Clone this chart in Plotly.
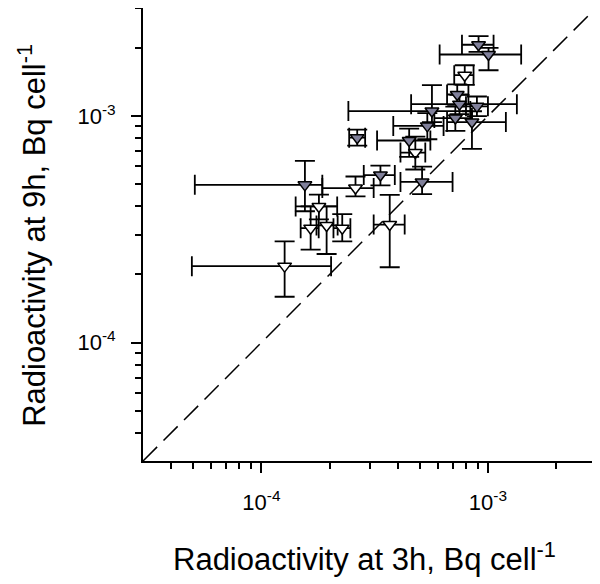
import math
import plotly.graph_objects as go

# ---------------- data (Bq cell^-1) ----------------
# grey (filled) series
grey_x    = [9.09e-4, 1.006e-3, 7.32e-4, 7.49e-4, 5.66e-4, 8.94e-4, 7.18e-4, 8.50e-4, 5.40e-4, 2.648e-4, 4.49e-4, 3.353e-4, 5.12e-4, 1.556e-4]
grey_y    = [2.065e-3, 1.870e-3, 1.245e-3, 1.129e-3, 1.052e-3, 1.104e-3, 9.80e-4, 9.41e-4, 9.05e-4, 8.03e-4, 7.80e-4, 5.49e-4, 5.12e-4, 4.97e-4]
grey_x_lo = [7.68e-4, 6.12e-4, 6.60e-4, 4.58e-4, 2.42e-4, 8.00e-4, 5.80e-4, 6.60e-4, 3.82e-4, 2.44e-4, 3.24e-4, 2.83e-4, 4.11e-4, 5.08e-5]
grey_x_hi = [1.059e-3, 1.402e-3, 8.20e-4, 1.342e-3, 8.36e-4, 1.00e-3, 8.50e-4, 1.20e-3, 6.37e-4, 2.87e-4, 5.57e-4, 3.88e-4, 6.98e-4, 1.857e-4]
grey_y_lo = [1.92e-3, 1.593e-3, 1.12e-3, 1.02e-3, 9.40e-4, 1.00e-3, 8.60e-4, 7.16e-4, 7.90e-4, 7.40e-4, 6.60e-4, 4.94e-4, 4.52e-4, 3.80e-4]
grey_y_hi = [2.254e-3, 2.00e-3, 1.38e-3, 1.24e-3, 1.37e-3, 1.22e-3, 1.10e-3, 1.05e-3, 1.03e-3, 8.71e-4, 8.80e-4, 6.04e-4, 5.98e-4, 6.34e-4]

# white (open) series
white_x    = [7.90e-4, 4.78e-4, 2.602e-4, 1.794e-4, 1.649e-4, 1.940e-4, 2.274e-4, 3.685e-4, 1.266e-4]
white_y    = [1.515e-3, 6.90e-4, 4.81e-4, 3.99e-4, 3.20e-4, 3.29e-4, 3.20e-4, 3.32e-4, 2.175e-4]
white_x_lo = [7.10e-4, 4.11e-4, 1.857e-4, 1.416e-4, 1.49e-4, 1.75e-4, 2.08e-4, 3.13e-4, 4.93e-5]
white_x_hi = [8.64e-4, 5.29e-4, 3.13e-4, 2.16e-4, 1.79e-4, 2.17e-4, 2.47e-4, 4.29e-4, 2.03e-4]
white_y_lo = [1.373e-3, 5.81e-4, 4.42e-4, 3.50e-4, 2.57e-4, 2.46e-4, 2.80e-4, 2.15e-4, 1.593e-4]
white_y_hi = [1.676e-3, 8.12e-4, 5.41e-4, 4.50e-4, 3.99e-4, 3.99e-4, 3.69e-4, 4.49e-4, 2.80e-4]

axis_limits = [3e-5, 3e-3]
major_ticks = [1e-4, 1e-3]
major_labels = ["10<sup>-4</sup>", "10<sup>-3</sup>"]
minor_ticks = [4e-5, 5e-5, 6e-5, 7e-5, 8e-5, 9e-5,
               2e-4, 3e-4, 4e-4, 5e-4, 6e-4, 7e-4, 8e-4, 9e-4,
               2e-3, 3e-3]

x_title = "Radioactivity at 3h, Bq cell<sup>-1</sup>"
y_title = "Radioactivity at 9h, Bq cell<sup>-1</sup>"

FONT = "Liberation Sans, Arial, sans-serif"


def plus(v, hi):
    return [h - a for a, h in zip(v, hi)]


def minus(v, lo):
    return [a - l for a, l in zip(v, lo)]


fig = go.Figure()

# identity (1:1) line
fig.add_trace(go.Scatter(x=axis_limits, y=axis_limits, mode="lines",
                         line=dict(color="black", width=1.5, dash="20px,9px"),
                         hoverinfo="skip", showlegend=False))

err_style = dict(type="data", symmetric=False, color="black", thickness=1.8, width=10)

fig.add_trace(go.Scatter(
    x=white_x, y=white_y, mode="markers",
    marker=dict(symbol="triangle-down", size=12, color="white",
                line=dict(color="black", width=1.5)),
    error_x=dict(array=plus(white_x, white_x_hi), arrayminus=minus(white_x, white_x_lo), **err_style),
    error_y=dict(array=plus(white_y, white_y_hi), arrayminus=minus(white_y, white_y_lo), **err_style),
    showlegend=False))

fig.add_trace(go.Scatter(
    x=grey_x, y=grey_y, mode="markers",
    marker=dict(symbol="triangle-down", size=12, color="#80809a",
                line=dict(color="black", width=1.5)),
    error_x=dict(array=plus(grey_x, grey_x_hi), arrayminus=minus(grey_x, grey_x_lo), **err_style),
    error_y=dict(array=plus(grey_y, grey_y_hi), arrayminus=minus(grey_y, grey_y_lo), **err_style),
    showlegend=False))

axis_common = dict(
    type="log",
    range=[math.log10(axis_limits[0]), math.log10(axis_limits[1])],
    tickmode="array", tickvals=major_ticks, ticktext=major_labels,
    ticks="outside", ticklen=10, tickwidth=1.5, tickcolor="black",
    showline=True, linecolor="black", linewidth=2, mirror=True,
    showgrid=False, zeroline=False,
    tickfont=dict(family=FONT, size=22, color="black"),
    minor=dict(tickvals=minor_ticks, ticks="outside", ticklen=6,
               tickwidth=1.5, tickcolor="black", showgrid=False),
)

fig.update_xaxes(**axis_common, ticklabelstandoff=11)
fig.update_yaxes(**axis_common, ticklabelstandoff=11)

# page body adds an 8 px margin, so the figure is sized 8 px smaller
fig.update_layout(
    width=592, height=576,
    margin=dict(l=135, r=4, t=0, b=123, autoexpand=False),
    paper_bgcolor="white", plot_bgcolor="white",
    font=dict(family=FONT, color="black", size=22),
    annotations=[
        dict(text=x_title, xref="paper", yref="paper", x=0.49, y=-0.212,
             xanchor="center", yanchor="middle", showarrow=False,
             font=dict(family=FONT, size=31, color="black")),
        dict(text=y_title, xref="paper", yref="paper", x=-0.245, y=0.497,
             xanchor="center", yanchor="middle", textangle=-90, showarrow=False,
             font=dict(family=FONT, size=31, color="black")),
    ],
)

fig.write_html("out.html")
